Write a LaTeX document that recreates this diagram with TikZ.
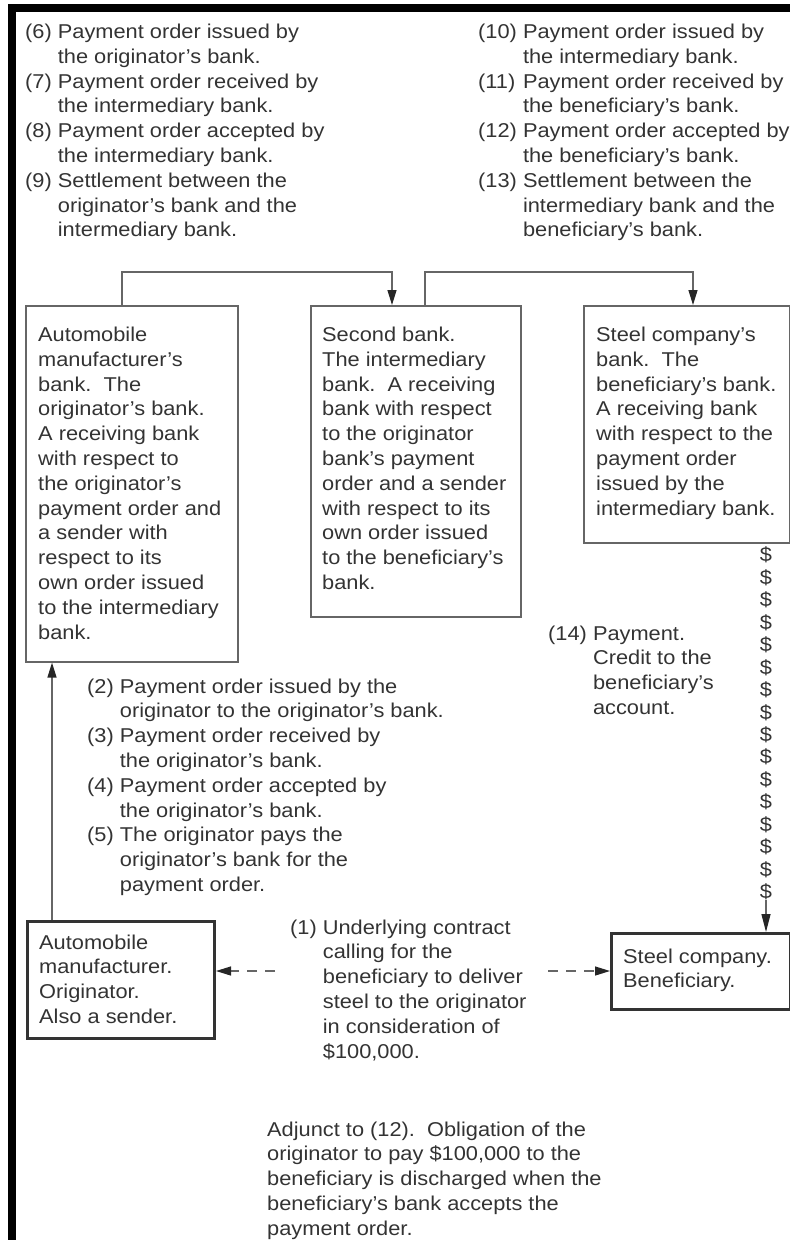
\documentclass[tikz,border=0pt]{standalone}
\usepackage{fontspec}
\setmainfont{Liberation Sans}[FakeStretch=1.09]
\usetikzlibrary{arrows.meta,calc}
\definecolor{ink}{HTML}{333333}
\definecolor{linegray}{HTML}{666666}
\newcommand{\Lines}[1]{\begin{tabular}[t]{@{}l@{}}#1\end{tabular}}
\newcommand{\NLines}[1]{\begin{tabular}[t]{@{}l@{\ }l@{}}#1\end{tabular}}
\begin{document}
\begin{tikzpicture}[x=1pt,y=-1pt,
  font=\fontsize{20}{24.8}\selectfont, text=ink,
  txt/.style={inner sep=0pt, anchor=base west},
  thinbox/.style={draw=linegray, line width=1.6pt, inner sep=0pt, anchor=north west},
  thickbox/.style={draw=ink, line width=3pt, inner sep=0pt, anchor=north west},
  conn/.style={draw=linegray, line width=1.3pt, -{Triangle[length=15pt,width=9pt,color=black!85]}},
  dconn/.style={conn, dash pattern=on 10pt off 8pt},
  dollar/.style={inner sep=0pt}]
\useasboundingbox (0,0) rectangle (790,1240);
% frame
\draw[line width=8pt, line join=miter, black] (790,8) -- (12,8) -- (12,1240);

% boxes
\node[thinbox, minimum width=212pt, minimum height=356pt] (bankL) at (25,305) {};
\node[thinbox, minimum width=210pt, minimum height=311pt] (bankM) at (310,305) {};
\node[thinbox, minimum width=206pt, minimum height=237pt] (bankR) at (583,305) {};
\node[thickbox, minimum width=187pt, minimum height=117pt] (auto) at (26,920) {};
\node[thickbox, minimum width=178.5pt, minimum height=76pt] (steel) at (610,932) {};

% top lists
\node[txt] (l6) at (25,38.5) {\NLines{(6) & Payment order issued by\\
 & the originator's bank.\\
(7) & Payment order received by\\
 & the intermediary bank.\\
(8) & Payment order accepted by\\
 & the intermediary bank.\\
(9) & Settlement between the\\
 & originator's bank and the\\
 & intermediary bank.}};
\node[txt] (l10) at (478,38.5) {\NLines{(10) & Payment order issued by\\
 & the intermediary bank.\\
(11) & Payment order received by\\
 & the beneficiary's bank.\\
(12) & Payment order accepted by\\
 & the beneficiary's bank.\\
(13) & Settlement between the\\
 & intermediary bank and the\\
 & beneficiary's bank.}};

% box texts
\node[txt] (tL) at (38,341.5) {\Lines{Automobile\\ manufacturer's\\ bank.\ \ The\\ originator's bank.\\ A receiving bank\\ with respect to\\ the originator's\\ payment order and\\ a sender with\\ respect to its\\ own order issued\\ to the intermediary\\ bank.}};
\node[txt] (tM) at (322,341.5) {\Lines{Second bank.\\ The intermediary\\ bank.\ \ A receiving\\ bank with respect\\ to the originator\\ bank's payment\\ order and a sender\\ with respect to its\\ own order issued\\ to the beneficiary's\\ bank.}};
\node[txt] (tR) at (596,341.5) {\Lines{Steel company's\\ bank.\ \ The\\ beneficiary's bank.\\ A receiving bank\\ with respect to the\\ payment order\\ issued by the\\ intermediary bank.}};
\node[txt] (tA) at (39,949) {\Lines{Automobile\\ manufacturer.\\ Originator.\\ Also a sender.}};
\node[txt] (tS) at (623,963) {\Lines{Steel company.\\ Beneficiary.}};

% middle texts
\node[txt] (l14) at (548,640) {\NLines{(14) & Payment.\\ & Credit to the\\ & beneficiary's\\ & account.}};
\node[txt] (l2) at (87,693) {\NLines{(2) & Payment order issued by the\\
 & originator to the originator's bank.\\
(3) & Payment order received by\\
 & the originator's bank.\\
(4) & Payment order accepted by\\
 & the originator's bank.\\
(5) & The originator pays the\\
 & originator's bank for the\\
 & payment order.}};
\node[txt] (l1) at (290,934) {\NLines{(1) & Underlying contract\\ & calling for the\\ & beneficiary to deliver\\ & steel to the originator\\ & in consideration of\\ & \$100,000.}};
\node[txt] (adj) at (267,1136) {\Lines{Adjunct to (12).\ \ Obligation of the\\ originator to pay \$100,000 to the\\ beneficiary is discharged when the\\ beneficiary's bank accepts the\\ payment order.}};

% connectors
\coordinate (a1) at (122,272);
\coordinate (b1) at (392,272);
\coordinate (a2) at (425,272);
\coordinate (b2) at (693,272);
\draw[conn] (a1 |- bankL.north) -- (a1) -- (b1) -- (b1 |- bankM.north);
\draw[conn] (a2 |- bankM.north) -- (a2) -- (b2) -- (b2 |- bankR.north);
\coordinate (a3) at (52,800);
\draw[conn] (a3 |- auto.north) -- (a3 |- bankL.south);

% dollar chain
\foreach \k in {0,...,15} {
  \node[dollar] (dl\k) at (766,555+22.47*\k) {\$};
}
\coordinate (d) at (766,900);
\draw[conn, -{Triangle[length=18pt,width=9pt,color=black!85]}] (dl15.south) -- (d |- steel.north);

% dashed arrows
\coordinate (e1) at (275,971);
\coordinate (e2) at (548,971);
\draw[dconn] (e1) -- (e1 -| auto.east);
\draw[dconn] (e2) -- (e2 -| steel.west);
\end{tikzpicture}
\end{document}
